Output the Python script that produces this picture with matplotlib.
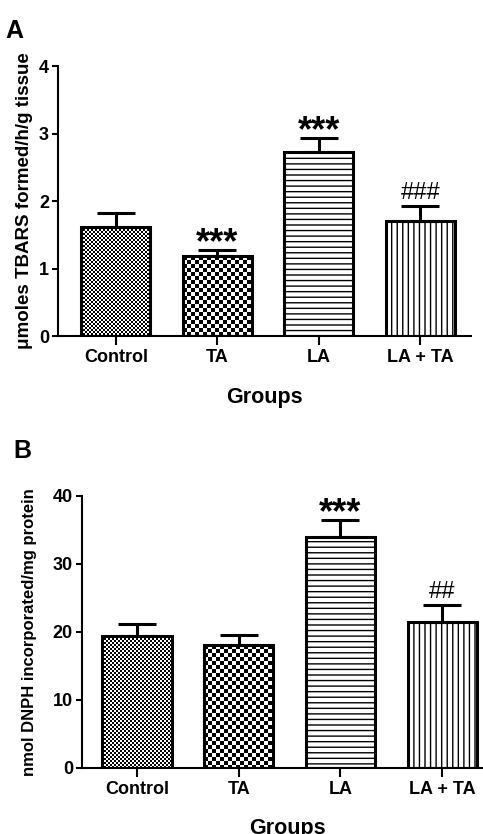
import matplotlib
matplotlib.use("Agg")
import matplotlib.pyplot as plt
import numpy as np

groups = ['Control', 'TA', 'LA', 'LA + TA']

# panel A: TBARS
tbars_mean = [1.61, 1.18, 2.72, 1.70]
tbars_sem = [0.22, 0.10, 0.22, 0.23]
tbars_marks = ['', '***', '***', '###']
tbars_ticks = [0, 1, 2, 3, 4]

# panel B: DNPH
dnph_mean = [19.4, 18.0, 33.9, 21.5]
dnph_sem = [1.8, 1.5, 2.6, 2.4]
dnph_marks = ['', '', '***', '##']
dnph_ticks = [0, 10, 20, 30, 40]

patterns = ['fine_checker', 'checker', '---', '|||']

plt.rcParams['font.family'] = ['Liberation Sans', 'DejaVu Sans']
plt.rcParams['font.weight'] = 'bold'
plt.rcParams['hatch.linewidth'] = 1.0


def checker_array(cell, h, w):
    i, j = np.indices((h, w))
    return ((i // cell + j // cell) % 2).astype(float)


def draw_panel(ax, means, sems, marks, ticks, xlim, ylabel, ylabel_size, ylabel_x, xlabel_y):
    x = np.arange(len(groups))
    ax.set_xlim(*xlim)
    ax.set_ylim(ticks[0], ticks[-1])

    bars = ax.bar(x, means, width=0.68, facecolor='none', edgecolor='black',
                  linewidth=2.2, zorder=3)
    for bar, kind in zip(bars, patterns):
        if not kind.endswith('checker'):
            bar.set_hatch(kind)
            continue
        # checkerboard fill, snapped to whole pixels and clipped to the bar
        x0 = bar.get_x()
        x1 = x0 + bar.get_width()
        y1 = bar.get_height()
        pix = np.round(ax.transData.transform([(x0, 0), (x1, y1)]))
        (dx0, dy0), (dx1, dy1) = ax.transData.inverted().transform(pix)
        w = int(pix[1, 0] - pix[0, 0])
        h = int(pix[1, 1] - pix[0, 1])
        cell = 2 if kind == 'fine_checker' else 4
        ax.imshow(checker_array(cell, h, w), cmap='gray', vmin=0, vmax=1,
                  extent=(dx0, dx1, dy0, dy1), origin='upper',
                  interpolation='nearest', aspect='auto', zorder=2, clip_path=bar)
    ax.set_xlim(*xlim)
    ax.set_ylim(ticks[0], ticks[-1])

    ax.errorbar(x, means, yerr=[np.zeros(len(means)), sems], fmt='none',
                ecolor='black', elinewidth=2.2, capsize=13.5, capthick=2.2, zorder=4)

    for xi, m, s, mark in zip(x, means, sems, marks):
        if not mark:
            continue
        if mark.startswith('*'):
            ax.annotate(mark, xy=(xi, m + s), xytext=(0, -2.5), textcoords='offset points',
                        ha='center', va='baseline', fontsize=26, fontweight='bold')
        else:
            ax.annotate(mark, xy=(xi, m + s), xytext=(0, 5), textcoords='offset points',
                        ha='center', va='baseline', fontsize=17, fontweight='normal')

    for side in ['top', 'right']:
        ax.spines[side].set_visible(False)
    for side in ['left', 'bottom']:
        ax.spines[side].set_linewidth(1.5)
    ax.set_xticks(x)
    ax.set_xticklabels(groups)
    ax.set_yticks(ticks)
    ax.tick_params(axis='x', length=6.5, width=1.5, labelsize=13, pad=3)
    ax.tick_params(axis='y', length=4.5, width=1.5, labelsize=13, pad=2)
    ax.set_ylabel(ylabel, fontsize=ylabel_size, fontweight='bold')
    ax.yaxis.set_label_coords(ylabel_x, 0.5)
    ax.set_xlabel('Groups', fontsize=15.5, fontweight='bold')
    ax.xaxis.set_label_coords(0.5, xlabel_y)


fig = plt.figure(figsize=(4.83, 8.34), dpi=100)
ax_a = fig.add_axes([0.1201, 0.5971, 0.8551, 0.3237])
ax_b = fig.add_axes([0.1698, 0.0795, 0.8510, 0.3258])

draw_panel(ax_a, tbars_mean, tbars_sem, tbars_marks, tbars_ticks, (-0.57, 3.5),
           'μmoles TBARS formed/h/g tissue', 13.5, -0.0605, -0.189)
draw_panel(ax_b, dnph_mean, dnph_sem, dnph_marks, dnph_ticks, (-0.54, 3.5),
           'nmol DNPH incorporated/mg protein', 12, -0.1095, -0.185)

fig.text(5 / 483, 1 - 38 / 834, 'A', fontsize=18, fontweight='bold', va='baseline')
fig.text(13 / 483, 1 - 458 / 834, 'B', fontsize=18, fontweight='bold', va='baseline')

fig.savefig('out.png', dpi=100)
